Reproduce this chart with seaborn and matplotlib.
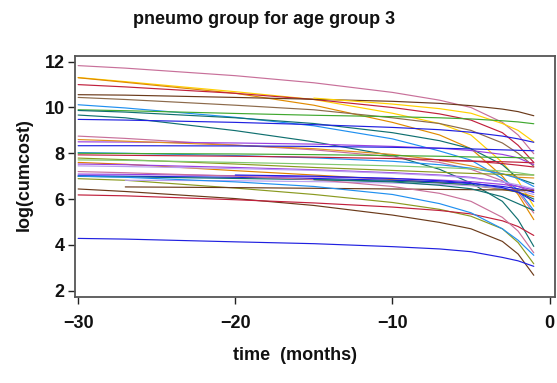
import numpy as np
import pandas as pd
import matplotlib
matplotlib.use("Agg")
import matplotlib.pyplot as plt
import seaborn as sns

nan = np.nan

# time points (months before end)
times = [-30, -27, -20, -15, -10, -7, -5, -3, -2, -1]

# colour of each subject's curve
subject_colors = [
    "#C8709A", "#FFD000", "#E08A00", "#C0203C", "#6B3A1A", "#8C6A4A",
    "#FFD000", "#2090F0", "#40A830", "#107070", "#107070", "#2020E0",
    "#C8709A", "#9A40E0", "#E09020", "#2020E0", "#2090F0", "#40A830",
    "#C0203C", "#8A9A20", "#80C870", "#E08000", "#9A40E0", "#B8A0F0",
    "#9A40E0", "#2020E0", "#107070", "#8A9A20", "#B8A0F0", "#6B3A1A",
    "#6B3A1A", "#C0203C", "#2020E0", "#2090F0", "#C8709A", "#C0203C",
    "#2020E0", "#107070",
]

# log(cumcost) of each subject at the time points above
subject_values = [
    [11.83, 11.72, 11.39, 11.08, 10.66, 10.32, 10.00, 9.35, 8.80, 7.98],
    [11.31, 11.13, 10.69, 10.35, 9.75, 9.30, 8.80, 7.60, 6.80, 5.68],
    [11.30, 11.10, 10.62, 10.10, 9.35, 8.80, 8.20, 7.00, 6.20, 5.10],
    [11.00, 10.90, 10.62, 10.35, 10.00, 9.72, 9.45, 8.90, 8.35, 7.60],
    [10.56, 10.54, 10.44, 10.36, 10.27, 10.18, 10.08, 9.93, 9.82, 9.64],
    [10.44, 10.35, 10.10, 9.90, 9.55, 9.30, 9.00, 8.45, 8.00, 7.43],
    [nan, nan, nan, 10.41, 10.15, 9.95, 9.75, 9.30, 9.00, 8.50],
    [10.12, 9.98, 9.57, 9.20, 8.63, 8.10, 7.70, 6.90, 6.40, 5.50],
    [9.90, 9.86, 9.74, 9.66, 9.60, 9.55, 9.50, 9.42, 9.37, 9.29],
    [9.87, 9.80, 9.55, 9.30, 8.90, 8.55, 8.20, 7.50, 6.90, 6.67],
    [9.67, 9.55, 8.99, 8.50, 7.90, 7.30, 6.70, 5.90, 5.10, 3.93],
    [9.48, 9.45, 9.35, 9.25, 9.13, 9.03, 8.92, 8.75, 8.63, 8.48],
    [8.75, 8.65, 8.36, 8.15, 7.85, 7.60, 7.30, 6.80, 6.30, 5.39],
    [8.50, 8.49, 8.45, 8.40, 8.30, 8.22, 8.12, 7.95, 7.80, 7.50],
    [8.60, 8.53, 8.35, 8.20, 7.95, 7.70, 7.45, 7.10, 6.95, 6.92],
    [8.33, 8.33, 8.32, 8.30, 8.26, 8.22, 8.19, 8.15, 8.13, 8.11],
    [8.03, 8.00, 7.90, 7.80, 7.65, 7.50, 7.35, 7.10, 6.90, 6.55],
    [8.00, 7.99, 7.97, 7.94, 7.90, 7.87, 7.84, 7.82, 7.81, 7.79],
    [7.93, 7.91, 7.87, 7.83, 7.77, 7.72, 7.66, 7.55, 7.48, 7.40],
    [7.79, 7.72, 7.53, 7.38, 7.25, 7.17, 7.12, 7.08, 7.06, 7.05],
    [7.71, 7.69, 7.60, 7.53, 7.45, 7.38, 7.32, 7.22, 7.15, 7.05],
    [7.60, 7.52, 7.24, 7.05, 6.85, 6.72, 6.60, 6.42, 6.30, 6.10],
    [7.53, 7.50, 7.38, 7.28, 7.15, 7.05, 6.95, 6.75, 6.55, 6.29],
    [7.45, 7.42, 7.33, 7.25, 7.12, 7.02, 6.92, 6.75, 6.62, 6.45],
    [7.09, 7.08, 7.02, 6.97, 6.90, 6.83, 6.76, 6.64, 6.55, 6.40],
    [7.02, 7.00, 6.95, 6.90, 6.82, 6.75, 6.68, 6.55, 6.45, 6.30],
    [6.99, 6.97, 6.90, 6.85, 6.78, 6.70, 6.62, 6.45, 6.30, 6.00],
    [6.89, 6.82, 6.48, 6.20, 5.85, 5.55, 5.25, 4.70, 4.10, 3.17],
    [nan, 6.82, 6.80, 6.76, 6.70, 6.64, 6.58, 6.47, 6.38, 6.20],
    [nan, 6.53, 6.50, 6.47, 6.44, 6.42, 6.41, 6.40, 6.39, 6.38],
    [6.44, 6.33, 6.02, 5.72, 5.30, 4.98, 4.70, 4.15, 3.60, 2.67],
    [6.18, 6.14, 5.97, 5.83, 5.65, 5.50, 5.35, 5.05, 4.80, 4.41],
    [4.28, 4.25, 4.13, 4.05, 3.92, 3.82, 3.70, 3.45, 3.30, 3.06],
    [7.00, 6.95, 6.75, 6.55, 6.20, 5.80, 5.40, 4.70, 4.20, 3.54],
    [7.20, 7.15, 7.00, 6.85, 6.55, 6.25, 5.90, 5.20, 4.60, 3.65],
    [nan, nan, nan, nan, nan, 7.68, 7.66, 7.63, 7.61, 7.58],
    [nan, nan, 7.05, 7.00, 6.90, 6.80, 6.70, 6.50, 6.30, 5.90],
    [nan, nan, nan, 6.85, 6.75, 6.60, 6.45, 6.10, 5.80, 5.50],
]

x_ticks = [-30, -20, -10, 0]
y_ticks = [2, 4, 6, 8, 10, 12]

rows = []
for sid, vals in enumerate(subject_values):
    for t, v in zip(times, vals):
        if not np.isnan(v):
            rows.append({"subject": sid, "time": t, "logcost": v})
df = pd.DataFrame(rows)

sns.set_theme(style="ticks")
plt.rcParams["font.family"] = ["Liberation Sans", "DejaVu Sans"]

fig = plt.figure(figsize=(5.57, 3.83), dpi=100)
ax = fig.add_axes([75 / 557, 1 - 297 / 383, 480 / 557, 241 / 383])

sns.lineplot(data=df, x="time", y="logcost", hue="subject",
             palette=subject_colors, estimator=None, sort=True,
             legend=False, linewidth=0.85, ax=ax)

ax.set_xlim(-30.2, 0.35)
ax.set_ylim(1.72, 12.25)
ax.set_xticks(x_ticks)
ax.set_yticks(y_ticks)
ax.set_xticklabels([f"{v}".replace("-", "\u2212") for v in x_ticks])
ax.set_xlabel("")
ax.set_ylabel("")
for s in ax.spines.values():
    s.set_color("#555555")
    s.set_linewidth(1.3)
ax.tick_params(axis="both", direction="out", length=5, width=1.0,
               color="#222222", labelsize=13)
ax.tick_params(axis="x", pad=8)
ax.tick_params(axis="y", pad=2.5)
for lab in ax.get_xticklabels() + ax.get_yticklabels():
    lab.set_fontweight("bold")
    lab.set_color("#111111")

fig.text(264 / 557, 1 - 20 / 383, "pneumo group for age group 3",
         ha="center", va="center", fontsize=13, fontweight="bold", color="#111111")
fig.text(295 / 557, 1 - 355 / 383, "time  (months)",
         ha="center", va="center", fontsize=13, fontweight="bold", color="#111111")
fig.text(24 / 557, 1 - 175 / 383, "log(cumcost)", rotation=90,
         ha="center", va="center", fontsize=13, fontweight="bold", color="#111111")

fig.savefig("out.png", dpi=100)
